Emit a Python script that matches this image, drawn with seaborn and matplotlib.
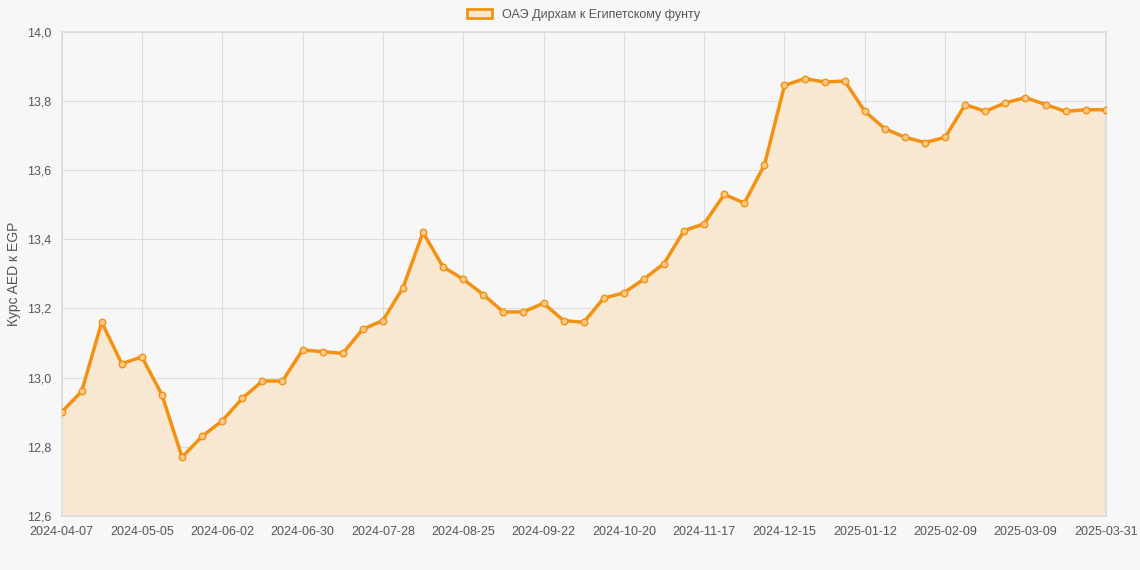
import matplotlib
matplotlib.use("Agg")
import matplotlib.pyplot as plt
import seaborn as sns
import numpy as np
import pandas as pd
from matplotlib.patches import Patch

values = [12.90,12.96,13.16,13.04,13.06,12.95,12.77,12.83,12.875,12.94,12.99,12.99,13.08,13.075,13.07,
          13.14,13.165,13.26,13.42,13.32,13.285,13.24,13.19,13.19,13.215,13.165,13.16,13.23,13.245,13.285,
          13.33,13.425,13.445,13.53,13.505,13.615,13.845,13.865,13.855,13.858,13.77,13.72,13.695,13.68,
          13.695,13.79,13.77,13.795,13.81,13.79,13.77,13.775,13.775]
tick_labels = ["2024-04-07","2024-05-05","2024-06-02","2024-06-30","2024-07-28","2024-08-25","2024-09-22",
               "2024-10-20","2024-11-17","2024-12-15","2025-01-12","2025-02-09","2025-03-09","2025-03-31"]
tick_idx = [0,4,8,12,16,20,24,28,32,36,40,44,48,52]

sns.set_theme(style="whitegrid")
plt.rcParams['font.family'] = ['Liberation Sans', 'DejaVu Sans']
df = pd.DataFrame({"i": np.arange(len(values)), "v": values})
fig, ax = plt.subplots(figsize=(11.4, 5.7), dpi=100)
fig.patch.set_facecolor("#f7f7f7")
ax.set_facecolor("#f7f7f7")
c = "#f39212"
ax.fill_between(df["i"], df["v"], 12.6, color="#f8e8d2", zorder=1)
sns.lineplot(data=df, x="i", y="v", ax=ax, color=c, lw=2.5, zorder=3)
ax.scatter(df["i"], df["v"], s=22, facecolor="#f8c98a", edgecolor=c, lw=1, zorder=4)
ax.set_xlim(0, 52)
ax.set_ylim(12.6, 14.0)
yt = np.arange(12.6, 14.01, 0.2)
ax.set_yticks(yt)
ax.set_yticklabels([f"{v:.1f}".replace(".", ",") for v in yt])
ax.set_xticks(tick_idx)
ax.set_xticklabels(tick_labels)
ax.tick_params(labelsize=9, colors="#555555", length=4)
ax.set_xlabel("")
ax.set_ylabel("Курс AED к EGP", fontsize=10, color="#555555")
ax.grid(color="#dddddd", lw=0.8)
for s in ax.spines.values():
    s.set_color("#dddddd")
ax.legend(handles=[Patch(facecolor="#f8e8d2", edgecolor=c, lw=2, label="ОАЭ Дирхам к Египетскому фунту")],
          loc="lower center", bbox_to_anchor=(0.5, 1.0), frameon=False, fontsize=9, labelcolor="#555555")
plt.subplots_adjust(left=0.054, right=0.97, top=0.944, bottom=0.095)
fig.savefig("out.png", facecolor=fig.get_facecolor())
